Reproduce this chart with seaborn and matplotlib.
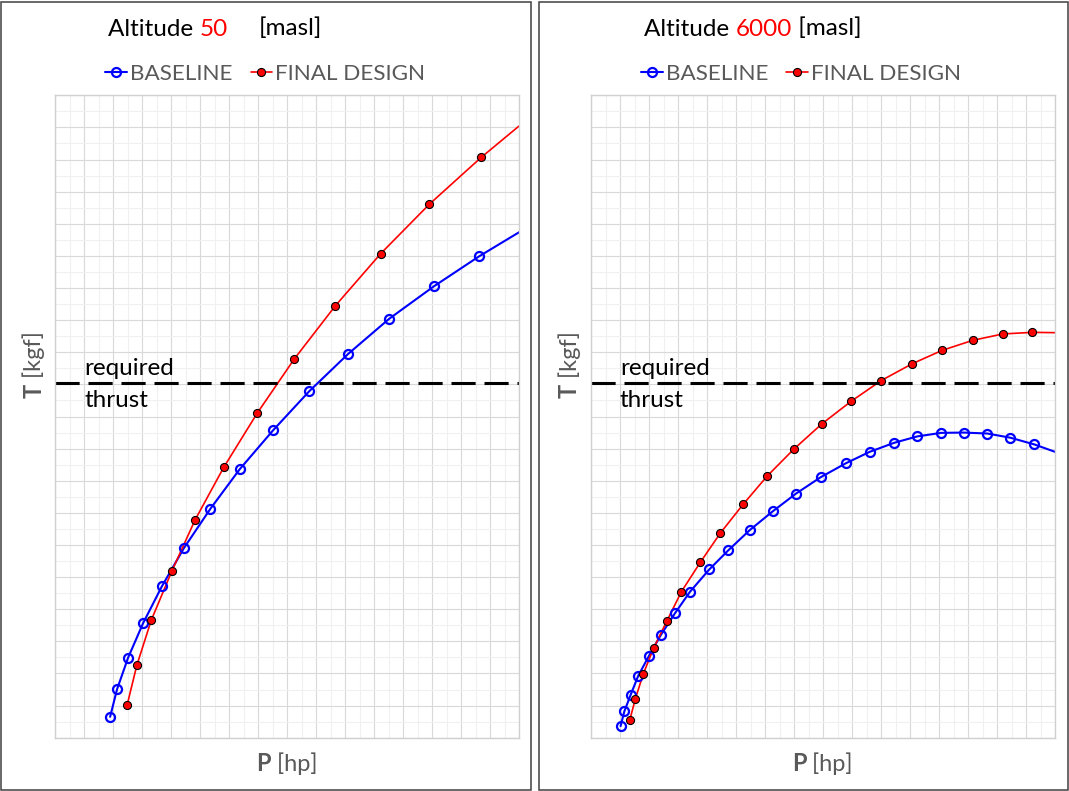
import numpy as np
import pandas as pd
import matplotlib
matplotlib.use("Agg")
import matplotlib.pyplot as plt
from matplotlib.lines import Line2D
from matplotlib.patches import Rectangle
import seaborn as sns

# grid units (no tick labels in the original)
base_50_x = [1.89, 2.13, 2.51, 3.03, 3.68, 4.44, 5.35, 6.36, 7.52, 8.76, 10.10, 11.51, 13.05, 14.62]
base_50_y = [0.65, 1.51, 2.49, 3.57, 4.72, 5.91, 7.13, 8.36, 9.58, 10.79, 11.95, 13.04, 14.05, 14.99]
base_50_end = (16.0, 15.74)
final_50_x = [2.48, 2.81, 3.31, 4.02, 4.82, 5.81, 6.96, 8.24, 9.66, 11.22, 12.90, 14.69]
final_50_y = [1.03, 2.25, 3.66, 5.19, 6.78, 8.42, 10.10, 11.79, 13.45, 15.07, 16.61, 18.07]
final_50_end = (16.0, 19.05)

base_6000_x = [1.02, 1.15, 1.37, 1.63, 2.00, 2.41, 2.90, 3.41, 4.08, 4.73, 5.47, 6.27, 7.07, 7.92,
               8.78, 9.61, 10.45, 11.25, 12.07, 12.85, 13.67, 14.46, 15.29]
base_6000_y = [0.36, 0.82, 1.34, 1.93, 2.55, 3.20, 3.88, 4.54, 5.24, 5.83, 6.46, 7.05, 7.60, 8.11,
               8.54, 8.90, 9.18, 9.38, 9.49, 9.50, 9.47, 9.34, 9.13]
base_6000_end = (16.0, 8.90)
final_6000_x = [1.34, 1.53, 1.80, 2.16, 2.62, 3.12, 3.77, 4.46, 5.25, 6.08, 6.99, 7.96, 8.98, 10.01,
                11.07, 12.11, 13.16, 14.20, 15.22]
final_6000_y = [0.56, 1.21, 1.98, 2.79, 3.64, 4.55, 5.46, 6.37, 7.27, 8.15, 8.98, 9.77, 10.48, 11.12,
                11.64, 12.06, 12.37, 12.57, 12.62]
final_6000_end = (16.0, 12.61)

required_thrust = 11.03
altitudes = ["50", "6000"]
series_names = ["BASELINE", "FINAL DESIGN"]

sns.set_style("white")
plt.rcParams['font.family'] = ['Lato', 'DejaVu Sans']

W, H = 1069, 791
fig = plt.figure(figsize=(W / 100, H / 100), dpi=100)

GRAY = "#595959"
FS_TITLE = 17.5
FS_LEG = 16.2
FS_LAB = 17


def px(x, y):
    return x / W, 1 - y / H


def draw_panel(left_px, alt, base, final, req):
    ax = fig.add_axes([left_px / W, (H - 737.7) / H, 464 / W, 642.4 / H])

    bx, by, bend = base
    fx, fy, fend = final
    base_line = pd.DataFrame({"P": bx + [bend[0]], "T": by + [bend[1]]})
    final_line = pd.DataFrame({"P": fx + [fend[0]], "T": fy + [fend[1]]})
    sns.lineplot(data=base_line, x="P", y="T", color="blue", lw=1.5, sort=False, ax=ax)
    sns.lineplot(data=final_line, x="P", y="T", color="red", lw=1.2, sort=False, ax=ax)
    ax.plot(bx, by, ls="none", marker="o", ms=6.5, mfc="none", mec="blue", mew=1.6)
    ax.plot(fx, fy, ls="none", marker="o", ms=5.8, mfc="red", mec="black", mew=0.8)
    ax.axhline(req, color="black", lw=2.2, ls=(0, (7.9, 2.9)))

    ax.set_xlim(0, 16)
    ax.set_ylim(0, 20)
    ax.set_xticks(np.arange(0, 17, 1))
    ax.set_xticks(np.arange(0.5, 16, 1), minor=True)
    ax.set_yticks(np.arange(0, 21, 1))
    ax.set_yticks(np.arange(0.5, 20, 1), minor=True)
    ax.tick_params(which="both", length=0, labelbottom=False, labelleft=False)
    ax.grid(which="major", color="#d9d9d9", lw=0.8)
    ax.grid(which="minor", color="#f0f0f0", lw=0.8)
    ax.set_axisbelow(True)
    ax.set_xlabel("")
    ax.set_ylabel("")
    for s in ax.spines.values():
        s.set_color("#d0d0d0")
        s.set_linewidth(1.0)

    # axis titles: bold letter + normal unit
    pb = fig.text(*px(left_px + 201, 771), "P", fontsize=FS_LAB, fontweight="bold", color=GRAY,
                  va="baseline")
    ax.annotate(" [hp]", xy=(1, 0), xycoords=pb, va="bottom", fontsize=FS_LAB, color=GRAY,
                annotation_clip=False)
    tb = fig.text(*px(left_px - 10, 398), "T", fontsize=FS_LAB, fontweight="bold", color=GRAY,
                  rotation=90, ha="right", va="bottom")
    ax.annotate(" [kgf]", xy=(1, 1), xycoords=tb, ha="right", va="bottom", fontsize=FS_LAB,
                color=GRAY, rotation=90, annotation_clip=False)

    fig.text(*px(left_px + 29, 375), "required", fontsize=FS_TITLE, color="black", va="baseline")
    fig.text(*px(left_px + 29, 407), "thrust", fontsize=FS_TITLE, color="black", va="baseline")

    # title in three pieces
    t1 = fig.text(*px(left_px + 53, 35.5), "Altitude ", fontsize=FS_TITLE, color="black",
                  va="baseline")
    t2 = ax.annotate(alt, xy=(1, 0), xycoords=t1, va="bottom", fontsize=FS_TITLE, color="red",
                     annotation_clip=False)
    if alt == "50":
        fig.text(*px(left_px + 203, 35.5), "[masl]", fontsize=FS_TITLE, color="black",
                 va="baseline")
    else:
        ax.annotate(" [masl]", xy=(1, 0), xycoords=t2, va="bottom", fontsize=FS_TITLE,
                    color="black", annotation_clip=False)

    handles = [
        Line2D([], [], color="blue", lw=1.5, marker="o", ms=6.5, mfc="none", mec="blue", mew=1.6),
        Line2D([], [], color="red", lw=1.2, marker="o", ms=5.8, mfc="red", mec="black", mew=0.8),
    ]
    leg = fig.legend(handles, series_names, loc="center left", bbox_to_anchor=px(left_px + 50, 74),
                     ncol=2, frameon=False, fontsize=FS_LEG, handlelength=0.97, handletextpad=0.13,
                     columnspacing=0.8, borderpad=0, borderaxespad=0)
    for t in leg.get_texts():
        t.set_color(GRAY)
    return ax


draw_panel(55.3, altitudes[0],
           (base_50_x, base_50_y, base_50_end), (final_50_x, final_50_y, final_50_end), required_thrust)
draw_panel(591, altitudes[1],
           (base_6000_x, base_6000_y, base_6000_end), (final_6000_x, final_6000_y, final_6000_end),
           required_thrust)

# chart-area borders
for x0, x1 in [(1, 531), (539, 1068)]:
    fig.add_artist(Rectangle((x0 / W, 1 / H), (x1 - x0) / W, (H - 3) / H, transform=fig.transFigure,
                             fill=False, edgecolor="#404040", lw=1.1))

fig.savefig("out.png", dpi=100)
